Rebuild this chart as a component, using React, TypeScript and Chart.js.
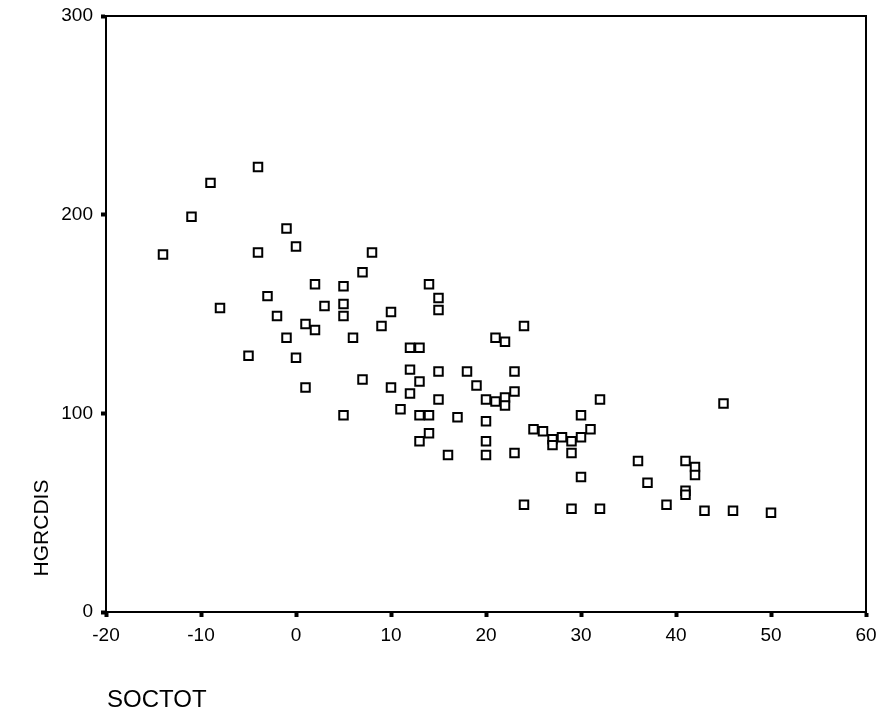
import React, { useEffect, useRef } from "react";
import { Chart, registerables } from "chart.js";

Chart.register(...registerables);

// SOCTOT (x) values
const soctot = [
  -4, -9, -11, -1, 0, -4, -14, 2, 5, -3,
  -8, 3, -2, 1, 2, -1, -5, 0, 1, 8,
  7, 14, 15, 5, 15, 5, 10, 9, 6, 21,
  22, 24, 12, 13, 12, 15, 18, 23, 7, 13,
  19, 10, 12, 23, 15, 20, 21, 22, 22, 32,
  11, 13, 14, 17, 20, 30, 5, 25, 26, 27,
  27, 28, 29, 30, 31, 14, 13, 20, 29, 16,
  20, 23, 30, 45, 36, 41, 42, 42, 37, 41,
  41, 24, 29, 32, 39, 43, 46, 50,
];

// HGRCDIS (y) values
const hgrcdis = [
  224, 216, 199, 193, 184, 181, 180, 165, 164, 159,
  153, 154, 149, 145, 142, 138, 129, 128, 113, 181,
  171, 165, 158, 155, 152, 149, 151, 144, 138, 138,
  136, 144, 133, 133, 122, 121, 121, 121, 117, 116,
  114, 113, 110, 111, 107, 107, 106, 108, 104, 107,
  102, 99, 99, 98, 96, 99, 99, 92, 91, 87,
  84, 88, 86, 88, 92, 90, 86, 86, 80, 79,
  79, 80, 68, 105, 76, 76, 73, 69, 65, 61,
  59, 54, 52, 52, 54, 51, 51, 50,
];

const xTitle = "SOCTOT";
const yTitle = "HGRCDIS";
const xMin = -20;
const xMax = 60;
const xStep = 10;
const yMin = 0;
const yMax = 300;
const yStep = 100;

const FONT = '"Liberation Sans", Arial, Helvetica, sans-serif';

export default function App() {
  const ref = useRef<HTMLCanvasElement | null>(null);

  useEffect(() => {
    if (!ref.current) return;
    const points = soctot.map((x, i) => ({ x, y: hgrcdis[i] }));

    const framePlugin = {
      id: "frameAndTitles",
      afterDraw(chart: any) {
        const { ctx, chartArea } = chart;
        ctx.save();
        ctx.strokeStyle = "#000";
        ctx.lineWidth = 2;
        ctx.beginPath();
        ctx.moveTo(chartArea.left, chartArea.top);
        ctx.lineTo(chartArea.right, chartArea.top);
        ctx.lineTo(chartArea.right, chartArea.bottom);
        ctx.stroke();

        ctx.fillStyle = "#000";
        ctx.font = "24px " + FONT;
        ctx.textBaseline = "middle";
        ctx.textAlign = "left";
        ctx.fillText(xTitle, chartArea.left + 1, 700);

        ctx.font = "21px " + FONT;
        ctx.translate(42, 528);
        ctx.rotate(-Math.PI / 2);
        ctx.textAlign = "center";
        ctx.fillText(yTitle, 0, 0);
        ctx.restore();
      },
    };

    const chart = new Chart(ref.current, {
      type: "scatter",
      data: {
        datasets: [
          {
            data: points,
            pointStyle: "rect",
            pointRadius: 6,
            pointHoverRadius: 6,
            borderColor: "#000",
            backgroundColor: "#fff",
            borderWidth: 2,
          },
        ],
      },
      options: {
        responsive: false,
        animation: false,
        layout: { padding: { left: 0, top: 16, right: 16, bottom: 0 } },
        plugins: {
          legend: { display: false },
          tooltip: { enabled: false },
        },
        scales: {
          x: {
            type: "linear",
            min: xMin,
            max: xMax,
            afterFit(scale: any) {
              scale.height = 108;
              scale.paddingLeft = 0;
              scale.paddingRight = 0;
            },
            ticks: {
              stepSize: xStep,
              color: "#000",
              padding: 7,
              font: { family: FONT, size: 19 },
            },
            grid: {
              drawOnChartArea: false,
              drawTicks: true,
              tickLength: 5,
              tickWidth: 4,
              tickColor: "#000",
            },
            border: { display: true, color: "#000", width: 2 },
          },
          y: {
            type: "linear",
            min: yMin,
            max: yMax,
            afterFit(scale: any) {
              scale.width = 106;
              scale.paddingTop = 0;
              scale.paddingBottom = 0;
            },
            ticks: {
              stepSize: yStep,
              color: "#000",
              padding: 8,
              font: { family: FONT, size: 19 },
            },
            grid: {
              drawOnChartArea: false,
              drawTicks: true,
              tickLength: 5,
              tickWidth: 4,
              tickColor: "#000",
            },
            border: { display: true, color: "#000", width: 2 },
          },
        },
      },
      plugins: [framePlugin],
    });
    return () => chart.destroy();
  }, []);

  return (
    <canvas
      ref={ref}
      width={882}
      height={720}
      style={{
        display: "block",
        position: "absolute",
        left: 0,
        top: 0,
        width: 882,
        height: 720,
      }}
    />
  );
}
